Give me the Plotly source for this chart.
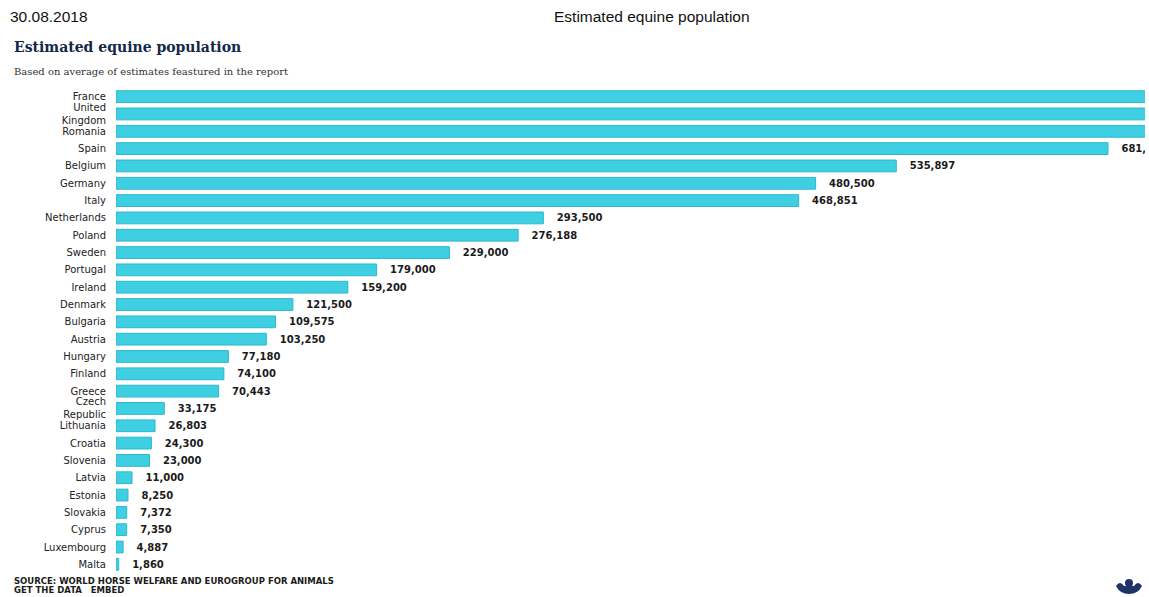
import plotly.graph_objects as go

countries = ["France", "United<br>Kingdom", "Romania", "Spain", "Belgium", "Germany", "Italy",
             "Netherlands", "Poland", "Sweden", "Portugal", "Ireland", "Denmark", "Bulgaria",
             "Austria", "Hungary", "Finland", "Greece", "Czech<br>Republic", "Lithuania", "Croatia",
             "Slovenia", "Latvia", "Estonia", "Slovakia", "Cyprus", "Luxembourg", "Malta"]
population = [1050000, 988000, 780000, 681300, 535897, 480500, 468851,
              293500, 276188, 229000, 179000, 159200, 121500, 109575,
              103250, 77180, 74100, 70443, 33175, 26803, 24300,
              23000, 11000, 8250, 7372, 7350, 4887, 1860]

W, H = 1149, 597
L, R, T, B = 116, 1145, 88, 573

def px(x):
    return (x - L) / (R - L)

def py(y):
    return (B - y) / (B - T)

xmax = 681300 * (R - L) / (1108 - L)

labels = ["   " + f"{v:,}" if v < xmax else "" for v in population]

fig = go.Figure()
fig.add_trace(go.Bar(
    x=population, y=countries, orientation="h",
    marker=dict(color="#3fcfe3", line=dict(color="#2cb8cc", width=1)),
    width=0.68,
    text=labels,
    textposition="outside", cliponaxis=True, constraintext="none",
    textfont=dict(family="DejaVu Sans", size=10, color="#1a1a1a", weight="bold"),
    hoverinfo="skip",
))

fig.update_layout(
    width=W, height=H,
    margin=dict(l=L, r=W - R, t=T, b=H - B),
    paper_bgcolor="white", plot_bgcolor="white",
    showlegend=False,
    xaxis=dict(range=[0, xmax], visible=False, fixedrange=True),
    yaxis=dict(autorange="reversed", showgrid=False, zeroline=False, showline=False,
               ticks="", ticklabelstandoff=9,
               tickfont=dict(family="DejaVu Sans", size=10, color="#222222")),
    font=dict(family="DejaVu Sans"),
)

ann = [
    dict(text="30.08.2018", x=px(8), y=py(16), xanchor="left", yanchor="middle",
         font=dict(family="Liberation Sans", size=15.5, color="#111111")),
    dict(text="Estimated equine population", x=px(652), y=py(16), xanchor="center", yanchor="middle",
         font=dict(family="Liberation Sans", size=15.5, color="#111111")),
    dict(text="<b>Estimated equine population</b>", x=px(12), y=py(47), xanchor="left", yanchor="middle",
         font=dict(family="DejaVu Serif", size=14, color="#14284a")),
    dict(text="Based on average of estimates feastured in the report", x=px(12), y=py(72),
         xanchor="left", yanchor="middle",
         font=dict(family="DejaVu Serif", size=10, color="#333333")),
    dict(text="<b>SOURCE: WORLD HORSE WELFARE AND EUROGROUP FOR ANIMALS</b>", x=px(12), y=py(581),
         xanchor="left", yanchor="middle",
         font=dict(family="DejaVu Sans", size=8.5, color="#1a1a1a")),
    dict(text="<b>GET THE DATA   EMBED</b>", x=px(12), y=py(590),
         xanchor="left", yanchor="middle",
         font=dict(family="DejaVu Sans", size=8.5, color="#1a1a1a")),
]
for a in ann:
    a.update(xref="paper", yref="paper", showarrow=False)
fig.update_layout(annotations=ann)

# small logo approximation
navy = "#1e3466"
fig.add_shape(type="circle", xref="paper", yref="paper",
              x0=px(1125), x1=px(1133), y0=py(587), y1=py(579),
              fillcolor=navy, line=dict(width=0))
fig.add_shape(type="path", xref="paper", yref="paper",
              path=f"M {px(1116)},{py(586)} Q {px(1120)},{py(580)} {px(1124)},{py(586)} "
                   f"L {px(1134)},{py(586)} Q {px(1138)},{py(580)} {px(1142)},{py(586)} "
                   f"Q {px(1138)},{py(594)} {px(1129)},{py(594)} Q {px(1120)},{py(594)} {px(1116)},{py(586)} Z",
              fillcolor=navy, line=dict(width=0))

fig.write_html("out.html")
